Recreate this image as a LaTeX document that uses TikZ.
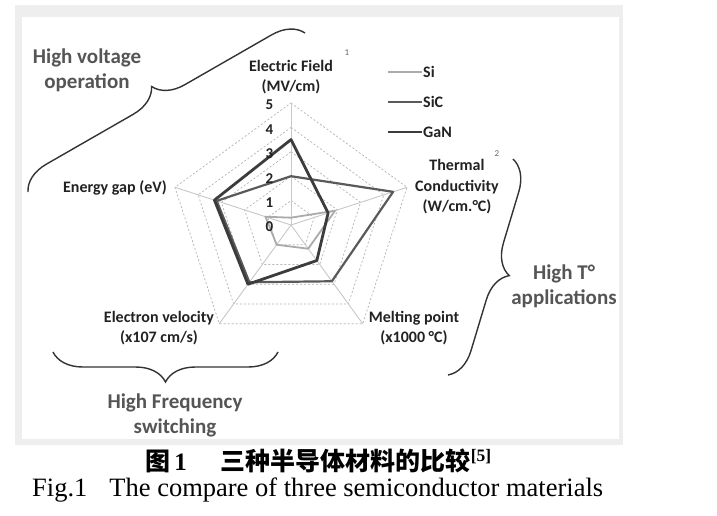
\documentclass[tikz,border=0pt]{standalone}
\usepackage{fontspec}
\setmainfont{Carlito}
\newfontfamily\cjk{Noto Sans CJK SC}
\newfontfamily\timesf{Liberation Serif}
\usetikzlibrary{decorations.pathreplacing}
\definecolor{frameg}{HTML}{EEEEEE}
\definecolor{sicol}{HTML}{ABABAB}
\definecolor{siccol}{HTML}{5A5A5A}
\definecolor{gancol}{HTML}{3C3C3C}
\definecolor{gridcol}{HTML}{B4B4B4}
\definecolor{spokecol}{HTML}{C8C8C8}
\definecolor{txtcol}{HTML}{222222}
\definecolor{grpcol}{HTML}{555555}
\begin{document}
\begin{tikzpicture}[x=1pt,y=-1pt,
  lbl/.style={font=\bfseries\fontsize{16}{20.5}\selectfont, text=txtcol, align=center, inner sep=0pt},
  grp/.style={font=\bfseries\fontsize{21}{25}\selectfont, text=grpcol, align=center, inner sep=0pt},
  tick/.style={font=\bfseries\fontsize{15}{17}\selectfont, text=txtcol, inner sep=0pt},
  supr/.style={font=\fontsize{9}{10}\selectfont, text=black!60, inner sep=0pt},
  leg/.style={font=\bfseries\fontsize{16}{18}\selectfont, text=txtcol, anchor=west, inner sep=0pt},
  bracestyle/.style={decorate, decoration={brace, amplitude=30pt}, draw=black!80, line width=1.4pt},
  ring/.style={draw=gridcol, dashed, dash pattern=on 2pt off 2pt, line width=0.7pt},
  spoke/.style={draw=spokecol, line width=0.9pt},
  sistyle/.style={draw=sicol, line width=1.8pt, line join=round},
  sicstyle/.style={draw=siccol, line width=2.2pt, line join=round},
  ganstyle/.style={draw=gancol, line width=2.8pt, line join=round},
]
\useasboundingbox (0,0) rectangle (717,516);
\fill[white] (0,0) rectangle (717,516);
% frame
\fill[frameg] (15,5) rectangle (623,445);
\fill[white] (22,17) rectangle (619,439);

% radar chart
\begin{scope}[shift={(291,225)}, x=24.4pt, y=24.4pt]
  \foreach \r in {1,...,5}
    \draw[ring] (90:\r) -- (18:\r) -- (-54:\r) -- (-126:\r) -- (162:\r) -- cycle;
  \foreach \a in {90,18,-54,-126,162}
    \draw[spoke] (0,0) -- (\a:5);
  \draw[sistyle] (90:0.3) -- (18:1.9) -- (-54:1.2) -- (-126:1.0) -- (162:1.1) -- cycle;
  \draw[sicstyle] (90:2.0) -- (18:4.4) -- (-54:2.85) -- (-126:2.9) -- (162:3.2) -- cycle;
  \draw[ganstyle] (90:3.5) -- (18:1.6) -- (-54:1.8) -- (-126:3.0) -- (162:3.3) -- cycle;
  \foreach \v in {0,...,5}
    \node[tick] (t\v) at (-0.88,\v-0.08) {\v};
\end{scope}

% axis labels
\node[lbl] (ef) at (291,77) {Electric Field\\(MV/cm)};
\node[supr] (s1) at (347,53) {1};
\node[lbl] (tc) at (457,187) {Thermal\\Conductivity\\(W/cm.°C)};
\node[supr] (s2) at (497,154) {2};
\node[lbl] (eg) at (115,188) {Energy gap (eV)};
\node[lbl] (ev) at (159,328) {Electron velocity\\(x107 cm/s)};
\node[lbl] (mp) at (414,328) {Melting point\\(x1000 °C)};

% legend
\coordinate (l1a) at (388,72); \coordinate (l1b) at (422,72);
\coordinate (l2a) at (388,102); \coordinate (l2b) at (422,102);
\coordinate (l3a) at (388,132); \coordinate (l3b) at (422,132);
\draw[sistyle] (l1a) -- (l1b);
\draw[sicstyle] (l2a) -- (l2b);
\draw[ganstyle] (l3a) -- (l3b);
\node[leg] (lsi) at (423,72) {Si};
\node[leg] (lsic) at (423,102) {SiC};
\node[leg] (lgan) at (423,132) {GaN};

% braces
\coordinate (b1s) at (28,192); \coordinate (b1e) at (305,33);
\draw[bracestyle] (b1s) -- (b1e);
\coordinate (b2s) at (513,159); \coordinate (b2e) at (448,375);
\draw[bracestyle] (b2s) -- (b2e);
\coordinate (b3s) at (278,352); \coordinate (b3e) at (53,352);
\draw[bracestyle] (b3s) -- (b3e);

\node[grp] (hv) at (87,70) {High voltage\\operation};
\node[grp] (ht) at (564,286) {High T°\\applications};
\node[grp] (hf) at (175,415) {High Frequency\\switching};

% captions
\node[anchor=west, inner sep=0pt, font=\fontsize{25}{28}\selectfont] (cap1) at (145,461)
  {{\cjk\bfseries 图}\,{\timesf\bfseries 1}\hspace{34pt}{\cjk\bfseries 三种半导体材料的比较}\textsuperscript{\timesf\bfseries [5]}};
\node[anchor=west, inner sep=0pt, font=\timesf\fontsize{26.5}{30}\selectfont] (cap2) at (32,490)
  {Fig.1\hspace{22pt}The compare of three semiconductor materials};
\end{tikzpicture}
\end{document}
